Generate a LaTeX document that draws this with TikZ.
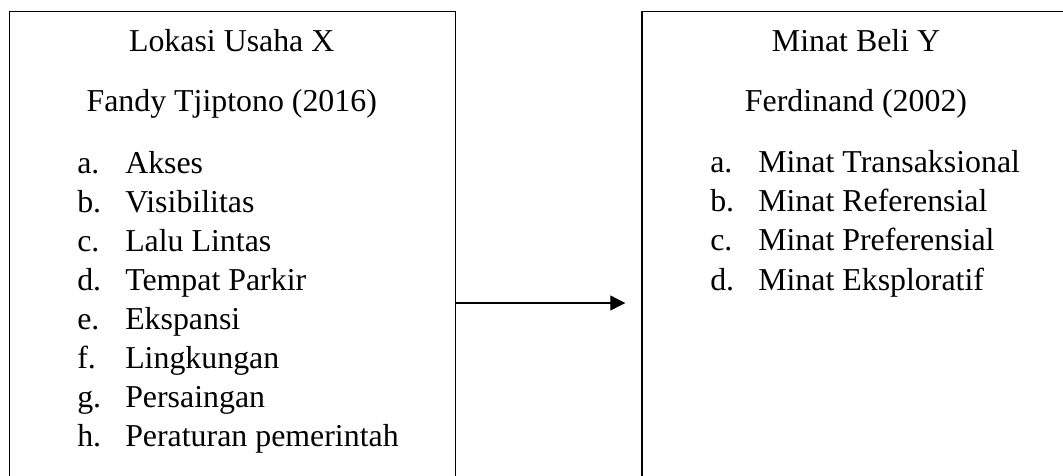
\documentclass[tikz,border=0pt]{standalone}
\usepackage{fontspec}
\setmainfont{Liberation Serif}
\usetikzlibrary{arrows.meta}

\tikzset{
  txt/.style={font=\fontsize{23.9}{29.3}\selectfont, inner sep=0pt, anchor=base},
  item/.style={txt, anchor=base west},
  frame/.style={draw, line width=1pt, inner sep=0pt, anchor=north west},
}
\newcommand{\lbl}[1]{\makebox[36pt][l]{#1}}

\begin{document}
\begin{tikzpicture}[x=0.75pt,y=-0.75pt]
 \useasboundingbox (0,0) rectangle (1063,475);
 \clip (0,0) rectangle (1063,475);
 % boxes, cut off at the bottom and on the right
 \node[frame,minimum width=334.9pt,minimum height=382.5pt] (lokasi) at (8.5,10.7) {};
 \node[frame,minimum width=322.3pt,minimum height=382.5pt] (beli) at (641.3,11) {};
 % left box
 \node[txt] (x-title) at (231.7,51.7) {Lokasi Usaha X};
 \node[txt] (x-src) at (231.7,111) {Fandy Tjiptono (2016)};
 \node[item] (x-a) at (77,173) {\lbl{a.}Akses};
 \node[item] (x-b) at (77,212.1) {\lbl{b.}Visibilitas};
 \node[item] (x-c) at (77,251.2) {\lbl{c.}Lalu Lintas};
 \node[item] (x-d) at (77,290.3) {\lbl{d.}Tempat Parkir};
 \node[item] (x-e) at (77,329.4) {\lbl{e.}Ekspansi};
 \node[item] (x-f) at (77,368.5) {\lbl{f.}Lingkungan};
 \node[item] (x-g) at (77,407.6) {\lbl{g.}Persaingan};
 \node[item] (x-h) at (77,446.7) {\lbl{h.}Peraturan pemerintah};
 % right box
 \node[txt] (y-title) at (856,51.7) {Minat Beli Y};
 \node[txt] (y-src) at (856,111) {Ferdinand (2002)};
 \node[item] (y-a) at (710,172.7) {\lbl{a.}Minat Transaksional};
 \node[item] (y-b) at (710,211.8) {\lbl{b.}Minat Referensial};
 \node[item] (y-c) at (710,250.9) {\lbl{c.}Minat Preferensial};
 \node[item] (y-d) at (710,290) {\lbl{d.}Minat Eksploratif};
 % arrow X -> Y
 \coordinate (arr) at (0,303);
 \draw[line width=0.8pt,-{Triangle[length=11.25pt,width=11.25pt]},shorten >=12pt]
   (lokasi.east |- arr) -- (beli.west |- arr);
\end{tikzpicture}
\end{document}
